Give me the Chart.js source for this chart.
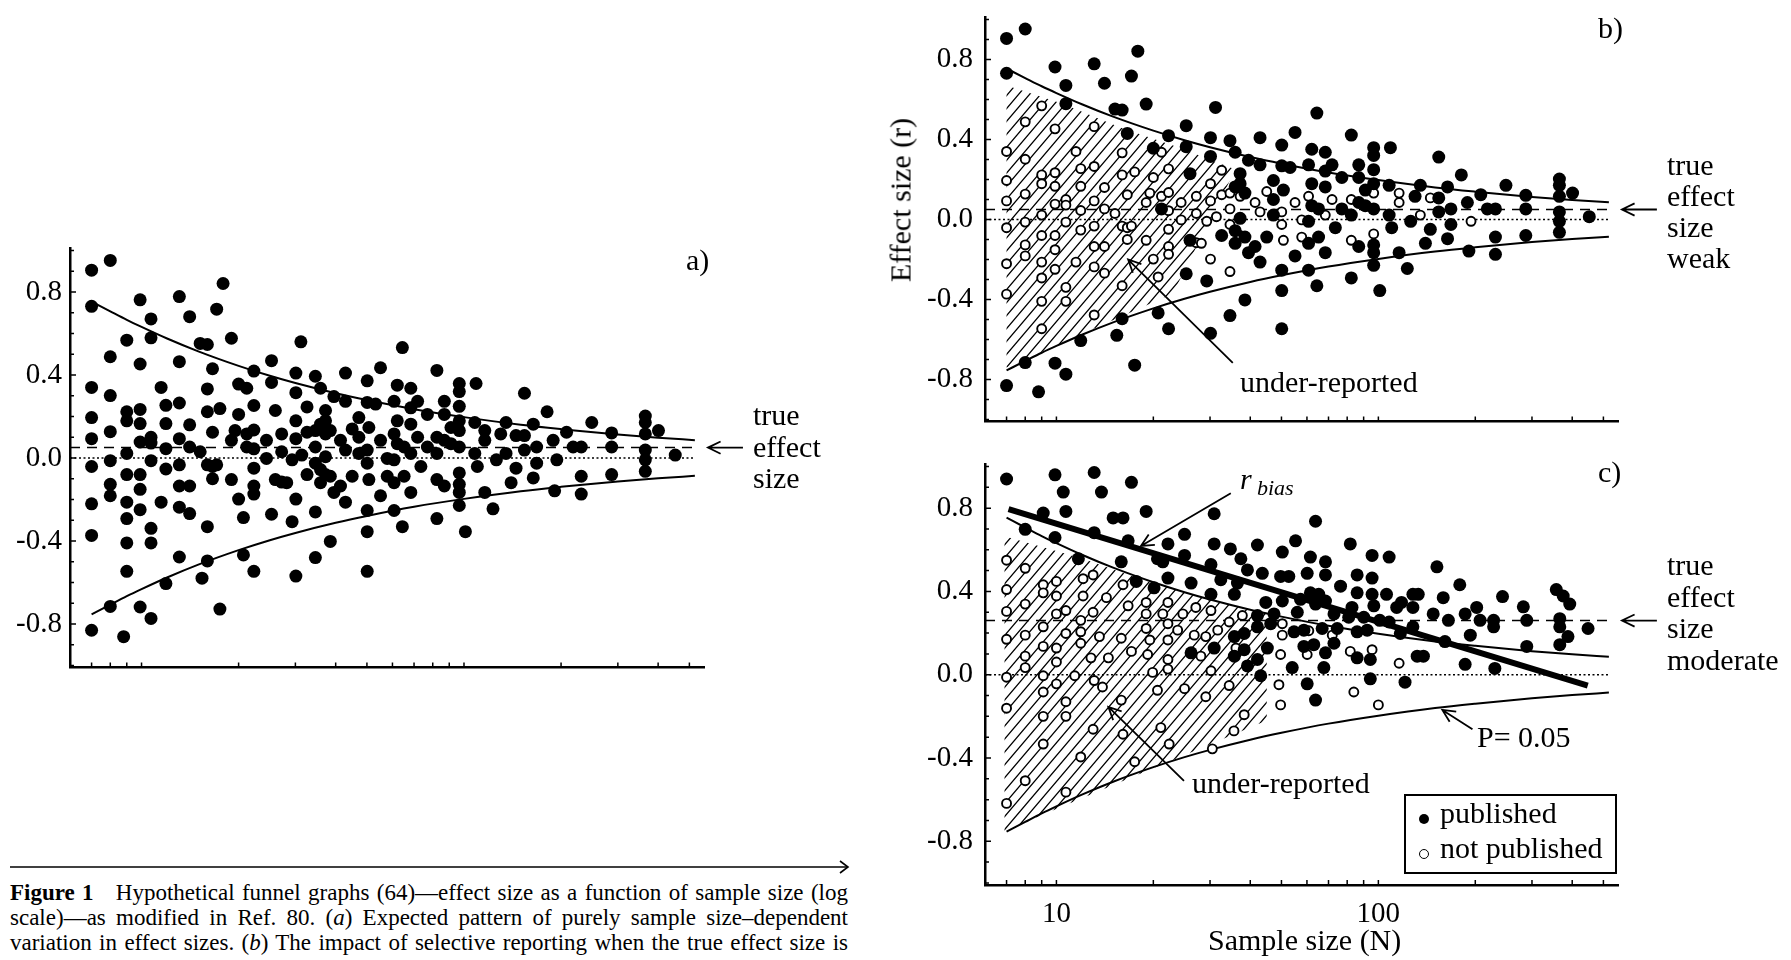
<!DOCTYPE html>
<html>
<head>
<meta charset="utf-8">
<title>Hypothetical funnel graphs</title>
<script src="https://cdn.jsdelivr.net/npm/chart.js@4.4.1/dist/chart.umd.min.js"></script>
<style>
  body { margin: 0; width: 1791px; height: 960px; position: relative; overflow: hidden; background: #fff; font-family: "Liberation Serif", "Times New Roman", serif; color: #000; }
  canvas { position: absolute; }
  .lbl { position: absolute; font-size: 30px; line-height: 31px; white-space: nowrap; z-index: 2; }
  .cap { position: absolute; left: 10px; width: 838px; font-size: 23px; line-height: 25px; text-align: justify; text-align-last: justify; }
  #legend { position: absolute; left: 1404px; top: 794px; width: 209px; height: 76px; border: 2px solid #000; z-index: 2; }
  .dot { position: absolute; width: 10px; height: 10px; border-radius: 50%; box-sizing: border-box; }
</style>
</head>
<body>
<canvas id="panelA" width="880" height="470" style="left:0;top:223px"></canvas>
<canvas id="panelB" width="891" height="463" style="left:900px;top:-12px"></canvas>
<canvas id="panelC" width="891" height="525" style="left:900px;top:435px"></canvas>

<div class="lbl" style="left:686px;top:244px">a)</div>
<div class="lbl" style="left:1598px;top:12px">b)</div>
<div class="lbl" style="left:1598px;top:456px">c)</div>

<div class="lbl" style="left:753px;top:399px;line-height:31.5px">true<br>effect<br>size</div>
<div class="lbl" style="left:1667px;top:149px">true<br>effect<br>size<br>weak</div>
<div class="lbl" style="left:1667px;top:549px;line-height:31.5px">true<br>effect<br>size<br>moderate</div>

<div class="lbl" style="left:1240px;top:366px">under-reported</div>
<div class="lbl" style="left:1192px;top:767px">under-reported</div>
<div class="lbl" style="left:1477px;top:721px">P= 0.05</div>
<div class="lbl" style="left:1240px;top:463px;font-style:italic">r</div>
<div class="lbl" style="left:1257px;top:476px;font-style:italic;font-size:22px;line-height:24px">bias</div>

<div class="lbl" style="left:900px;top:200px;transform:translate(-50%,-50%) rotate(-90deg)">Effect size (r)</div>
<div class="lbl" style="left:1208px;top:924px">Sample size (N)</div>

<div id="legend">
  <span class="dot" style="left:13px;top:18px;background:#000"></span>
  <span class="lbl" style="left:34px;top:1px">published</span>
  <span class="dot" style="left:13px;top:53px;border:1.7px solid #000;background:#fff"></span>
  <span class="lbl" style="left:34px;top:36px">not published</span>
</div>

<svg style="position:absolute;left:0;top:858px" width="860" height="18">
  <line x1="10" y1="9" x2="848" y2="9" stroke="#000" stroke-width="1.6"/>
  <polyline points="840,3 848,9 840,15" fill="none" stroke="#000" stroke-width="1.6"/>
</svg>
<div class="cap" style="top:880px"><b>Figure 1</b>&nbsp;&nbsp; Hypothetical funnel graphs (64)—effect size as a function of sample size (log</div>
<div class="cap" style="top:905px">scale)—as modified in Ref. 80. (<i>a</i>) Expected pattern of purely sample size–dependent</div>
<div class="cap" style="top:930px">variation in effect sizes. (<i>b</i>) The impact of selective reporting when the true effect size is</div>

<script>
'use strict';
// Axis ranges and ticks: sample size N on a log scale, effect size r linear.
const xMin = 6, xMax = 555;
const yMin = -1.01, yMax = 1.01;
const xLabelTicks = [10, 100];
const xMarks = [7, 8, 9, 10, 20, 30, 40, 50, 60, 70, 80, 90, 100, 200, 300, 400, 500];
const yLabelTicks = [-0.8, -0.4, 0, 0.4, 0.8];
const yMarks = [-1.0, -0.9, -0.8, -0.7, -0.6, -0.5, -0.4, -0.3, -0.2, -0.1, 0, 0.1, 0.2, 0.3, 0.4, 0.5, 0.6, 0.7, 0.8, 0.9, 1.0];

// P = 0.05 funnel curves
const critN = [7, 8, 9, 10, 12, 15, 20, 25, 30, 40, 50, 70, 100, 150, 200, 300, 400, 520];
const critUpper = [0.754, 0.707, 0.666, 0.632, 0.576, 0.514, 0.444, 0.396, 0.361, 0.312, 0.279, 0.235, 0.197, 0.160, 0.139, 0.113, 0.098, 0.086];
const critLower = [-0.754, -0.707, -0.666, -0.632, -0.576, -0.514, -0.444, -0.396, -0.361, -0.312, -0.279, -0.235, -0.197, -0.160, -0.139, -0.113, -0.098, -0.086];

// reference lines: true effect (dashed) and zero (dotted)
const refLineN = [6, 520];
const trueWeak = [0.05, 0.05];
const trueModerate = [0.26, 0.26];
const zeroLine = [0, 0];

// r_bias regression line in panel c
const rbiasN = [7.1, 447];
const rbiasR = [0.795, -0.052];

// Panels a & b share the same studies: [N, r]; "published" are filled in b, "unpublished" open in b
const abPublished = [
  [7,0.905],[7,0.731],[7,-0.83],[8,0.952],[8,-0.715],[8.8,-0.861],[9.9,0.762],[9.9,-0.718],
  [10.7,0.67],[10.7,0.579],[10.7,-0.773],[11.9,-0.605],[13.1,0.778],[14.1,0.681],[15.2,0.552],[15.4,-0.579],
  [16,0.547],[16,-0.496],[16.6,0.43],[17.1,0.717],[17.5,-0.728],[17.9,0.841],[19,0.577],[20,0.356],
  [20.7,-0.467],[21.2,0.053],[22.3,0.419],[22.3,-0.546],[25.3,0.469],[25.3,0.364],[25.3,-0.271],[26,0.229],
  [26,-0.104],[29.3,-0.307],[30.1,0.409],[30.1,0.315],[30.1,-0.569],[31.2,0.56],[32.6,-0.08],[34.6,0.394],
  [34.6,-0.48],[35.9,0.336],[35.9,0.163],[35.9,-0.056],[35.9,-0.119],[37.2,0.229],[37.2,0.179],[37.2,0.006],
  [38.5,0.132],[38.5,-0.088],[38.5,-0.402],[39.5,0.296],[39.5,-0.166],[41.4,-0.135],[42.9,0.409],[42.9,0.273],
  [42.9,-0.213],[45,-0.088],[47.2,0.195],[47.2,0.1],[47.2,0.022],[50.1,0.372],[50.1,0.268],[50.1,-0.253],
  [50.1,-0.355],[50.1,-0.546],[50.7,0.147],[53.2,0.26],[55.1,0.435],[55.1,-0.182],[60.7,0.273],[60.7,-0.009],
  [60.7,-0.119],[60.7,-0.253],[62.1,0.351],[62.1,0.179],[62.1,0.069],[64.4,0.532],[64.4,-0.331],[65.2,0.053],
  [65.2,-0.088],[68.4,0.336],[68.4,0.242],[68.4,0.163],[68.4,-0.166],[71.8,0.273],[73.5,-0.041],[77,0.21],
  [77,0.053],[82.4,0.422],[82.4,0.022],[82.4,-0.292],[86.9,0.273],[86.9,0.21],[86.9,0.085],[86.9,-0.135],
  [91.1,0.147],[91.1,0.069],[96.7,0.359],[96.7,0.32],[96.7,0.249],[96.7,0.179],[96.7,0.053],[96.7,-0.127],
  [96.7,-0.166],[96.7,-0.229],[101,-0.355],[108,0.171],[108,0.022],[109,0.359],[110,-0.041],[116,-0.166],
  [123,-0.245],[126,-0.009],[130,0.116],[135,0.171],[140,-0.119],[145,-0.049],[154,0.312],[154,0.108],
  [154,0.038],[164,0.163],[164,-0.096],[168,0.053],[168,-0.025],[181,0.223],[189,0.085],[191,-0.158],
  [208,0.124],[218,0.053],[231,0.053],[231,-0.088],[231,-0.174],[249,0.171],[287,0.121],[287,0.053],
  [287,-0.08],[365,0.202],[365,0.171],[365,0.116],[365,0.038],[365,-0.009],[365,-0.064],[401,0.132],[452,0.014]
];
const abUnpublished = [
  [7,0.34],[7,0.195],[7,0.093],[7,-0.041],[7,-0.221],[7,-0.373],
  [8,0.488],[8,0.301],[8,0.127],[8,-0.013],[8,-0.127],[8,-0.182],
  [9,0.568],[9,0.223],[9,0.179],[9,0.022],[9,-0.08],[9,-0.213],[9,-0.292],[9,-0.409],[9,-0.546],
  [9.9,0.453],[9.9,0.234],[9.9,0.166],[9.9,0.077],[9.9,-0.08],[9.9,-0.151],[9.9,-0.249],
  [10.7,0.1],[10.7,0.072],[10.7,-0.013],[10.7,-0.339],[10.7,-0.409],[11.5,0.34],[11.5,-0.213],
  [11.9,0.254],[11.9,0.166],[11.9,0.045],[11.9,-0.053],
  [13.1,0.464],[13.1,0.265],[13.1,0.093],[13.1,-0.033],[13.1,-0.135],[13.1,-0.237],[13.1,-0.477],
  [14.1,0.16],[14.1,0.053],[14.1,-0.135],[14.1,-0.268],[15.2,0.03],
  [16,0.333],[16,0.223],[16,-0.033],[16,-0.331],[16.6,0.124],[16.6,-0.041],[16.6,-0.1],
  [17.1,-0.033],[17.5,0.238],[19,0.085],[19,-0.104],[19.5,0.132],[20,0.21],[20,-0.198],[20.7,-0.287],
  [21.2,0.336],[21.2,0.116],[22.3,0.253],[22.3,0.135],[22.3,0.044],[22.3,-0.049],[22.3,-0.135],[22.3,-0.174],
  [24.4,0.085],[24.4,-0.002],[27.2,0.116],[27.2,0.03],[27.2,-0.116],[28.2,-0.119],[29.3,-0.009],
  [30.1,0.179],[30.1,0.093],[30.1,-0.198],[31.4,0.014],[32.6,0.246],[32.6,0.124],
  [34.6,0.132],[34.6,0.053],[34.6,-0.025],[34.6,-0.26],[37.2,0.116],[37.2,-0.08],
  [41.4,0.085],[42.9,0.038],[45,0.14],[50.1,0.038],[50.1,-0.025],[50.7,-0.104],[55.1,0.085],
  [57.8,-0.002],[57.8,-0.088],[60.7,0.116],[68.4,0.022],[71.8,0.1],[82.4,0.1],[82.4,-0.104],
  [96.7,0.132],[96.7,-0.072],[116,0.132],[116,0.085],[135,0.022],[145,0.108],[194,-0.009]
];

// Panel c studies
const cPublished = [
  [7,0.94],[9.9,0.96],[10.5,0.877],[13.1,0.971],[13.8,0.877],[17.1,0.924],[15,0.753],[16.1,0.753],
  [10.7,0.784],[9.1,0.776],[19,0.784],[8,0.698],[9.9,0.659],[13.1,0.682],[16.7,0.643],[25,0.674],
  [22.2,0.628],[11.7,0.557],[15.9,0.542],[20.6,0.557],[21.4,0.542],[25,0.573],[17.7,0.448],[22.2,0.464],
  [26.2,0.44],[20.1,0.417],[26.2,0.105],
  [30.9,0.773],[63.8,0.737],[30.9,0.628],[34.7,0.604],[42.1,0.623],[55.3,0.643],[81.8,0.628],[37.4,0.557],
  [50.3,0.589],[61.5,0.565],[68.5,0.542],[95.6,0.573],[108,0.565],[30.2,0.529],[39.2,0.503],[43.6,0.487],
  [49.7,0.472],[52.7,0.472],[60.1,0.487],[68.5,0.479],[85.9,0.479],[95.6,0.464],[32.4,0.456],[36.5,0.44],
  [76.3,0.425],[30.2,0.386],[35.7,0.386],[61.5,0.393],[65.3,0.386],[85.9,0.393],[95.6,0.386],[106,0.386],
  [118,0.347],[128,0.386],[44.7,0.347],[50.3,0.354],[57.3,0.362],[63.8,0.339],[68.5,0.354],[82.8,0.323],
  [96.8,0.331],[114,0.323],[128,0.323],[42.1,0.284],[47.4,0.292],[56,0.3],[72.8,0.292],[80.9,0.276],
  [90.1,0.276],[101,0.261],[108,0.253],[46.3,0.245],[54.7,0.206],[58.7,0.214],[66.9,0.222],[74.5,0.222],
  [85.9,0.206],[92.3,0.214],[117,0.198],[128,0.23],[38.3,0.198],[42.1,0.23],[35.7,0.183],[35.7,0.089],
  [30.9,0.128],[38.3,0.12],[45.2,0.128],[58.7,0.136],[63,0.144],[68.5,0.105],[72.8,0.151],[85.9,0.081],
  [94.4,0.073],[132,0.089],[39.2,0.042],[42.1,0.073],[43.1,-0.005],[54,0.034],[67.7,0.034],[60.1,-0.044],
  [63.8,-0.122],[94.4,-0.02],[121,-0.036],
  [152,0.518],[179,0.432],[133,0.386],[159,0.37],[243,0.375],[282,0.326],[357,0.409],[375,0.378],
  [393,0.339],[202,0.323],[186,0.292],[207,0.261],[165,0.261],[228,0.261],[228,0.23],[289,0.261],
  [366,0.269],[366,0.23],[388,0.183],[366,0.144],[448,0.222],[193,0.19],[161,0.159],[289,0.136],
  [138,0.089],[186,0.05],[230,0.03],[148,0.292]
];
const cUnpublished = [
  [7,0.55],[7,0.409],[7,0.304],[7,0.17],[7,-0.012],[7,-0.161],[7,-0.618],
  [8,0.511],[8,0.339],[8,0.19],[8,0.089],[8,0.034],[8,-0.509],
  [9.1,0.432],[9.1,0.393],[9.1,0.23],[9.1,0.136],[9.1,-0.005],[9.1,-0.083],[9.1,-0.2],[9.1,-0.333],
  [10,0.448],[10,0.378],[10,0.292],[10,0.128],[10,0.061],[10,-0.044],
  [10.7,0.308],[10.7,0.198],[10.7,-0.13],[10.7,-0.2],[10.7,-0.564],[11.4,-0.005],
  [12.1,0.461],[12.1,0.378],[11.9,0.261],[11.9,0.206],[11.9,0.151],[11.9,-0.395],
  [13,0.479],[13,0.3],[12.8,0.081],[13,-0.262],[13.1,-0.028],[13.6,0.183],[13.9,-0.059],[14.3,0.37],[14.5,0.081],
  [16.1,0.432],[15.9,0.175],[15.9,-0.122],[16.1,-0.286],[16.7,0.331],[17.1,0.112],[17.5,-0.418],
  [19,0.347],[19,0.292],[19,0.222],[19.2,0.097],[19.5,0.167],[19.9,0.011],[20.6,-0.075],[21.1,-0.254],
  [21.4,0.292],[22.2,0.347],[22.2,0.245],[22.2,0.167],[22.2,0.073],[22.2,0.027],[22.4,-0.333],
  [23.8,0.214],[24.7,0.292],[25,-0.067],[27.1,0.323],[26.8,0.19],[28.1,0.089],[30.5,-0.356],[35.6,-0.27],
  [30.2,0.308],[34.4,0.253],[37.8,0.284],[31.7,0.214],[29.1,0.183],[36.1,0.128],[50.3,0.245],[50.3,0.19],
  [60.8,0.211],[71.9,0.19],[49.7,0.097],[60.1,0.097],[81.8,0.112],[95.6,0.12],[116,0.055],[30.2,0.019],
  [34.4,-0.052],[49.1,-0.048],[83.9,-0.083],[100,-0.145],[49.7,-0.145],[29.1,-0.106],[38.3,-0.192]
];

// hatched "under-reported" regions, as [N, r] corners
const hatchB = [[7,0.67],[10.4,0.58],[15.8,0.46],[24,0.36],[36,0.25],[23,-0.37],[7,-0.74]];
const hatchC = [[6.9,0.665],[11.9,0.56],[19,0.45],[30,0.36],[45,0.29],[45,-0.22],[6.9,-0.75]];

// annotation arrows: [tail, tip] in [N, r]
const arrowTrueWeak = [[733, 0.05], [571, 0.05]];
const arrowTrueModerate = [[733, 0.26], [571, 0.26]];
const arrowUnderB = [[35.3, -0.716], [16.7, -0.2]];
const arrowUnderC = [[24.9, -0.51], [14.5, -0.155]];
const arrowBias = [[34.8, 0.871], [18.3, 0.618]];
const arrowP05 = [[196, -0.262], [158, -0.169]];

const tickFont = { family: 'Liberation Serif', size: 29 };

function pts(list) { return list.map(([x, y]) => ({ x, y })); }
function line(xs, ys) { return xs.map((x, i) => ({ x, y: ys[i] })); }

function drawArrow(ctx, x1, y1, x2, y2) {
  const a = Math.atan2(y2 - y1, x2 - x1), h = 14, s = 0.45;
  ctx.beginPath();
  ctx.moveTo(x1, y1);
  ctx.lineTo(x2, y2);
  ctx.moveTo(x2 - h * Math.cos(a - s), y2 - h * Math.sin(a - s));
  ctx.lineTo(x2, y2);
  ctx.lineTo(x2 - h * Math.cos(a + s), y2 - h * Math.sin(a + s));
  ctx.stroke();
}

// hatching, inward tick marks and arrows, all placed through the chart scales
const decor = {
  id: 'decor',
  beforeDatasetsDraw(chart, args, o) {
    if (!o.hatch) return;
    const { ctx, chartArea: ca, scales: { x, y } } = chart;
    ctx.save();
    ctx.beginPath();
    o.hatch.forEach(([n, r], i) => {
      const px = x.getPixelForValue(n), py = y.getPixelForValue(r);
      i ? ctx.lineTo(px, py) : ctx.moveTo(px, py);
    });
    ctx.closePath();
    ctx.clip();
    ctx.strokeStyle = '#000';
    ctx.lineWidth = 1.3;
    ctx.beginPath();
    const k = 0.85;
    for (let s = ca.left - ca.height * k; s < ca.right; s += 11) {
      ctx.moveTo(s, ca.bottom);
      ctx.lineTo(s + ca.height * k, ca.top);
    }
    ctx.stroke();
    ctx.restore();
  },
  afterDraw(chart, args, o) {
    const { ctx, chartArea: ca, scales: { x, y } } = chart;
    ctx.save();
    ctx.strokeStyle = '#000';
    ctx.lineWidth = 1.5;
    ctx.beginPath();
    xMarks.forEach(v => {
      const px = x.getPixelForValue(v);
      ctx.moveTo(px, ca.bottom);
      ctx.lineTo(px, ca.bottom - 5);
    });
    yMarks.forEach(v => {
      const py = y.getPixelForValue(v);
      ctx.moveTo(ca.left, py);
      ctx.lineTo(ca.left + (yLabelTicks.includes(v) ? 6 : 4), py);
    });
    ctx.stroke();
    ctx.lineWidth = 1.8;
    (o.arrows || []).forEach(([p, q]) => {
      drawArrow(ctx, x.getPixelForValue(p[0]), y.getPixelForValue(p[1]), x.getPixelForValue(q[0]), y.getPixelForValue(q[1]));
    });
    ctx.restore();
  }
};

function makePanel(id, cfg) {
  const datasets = [];
  if (cfg.rbias) {
    datasets.push({ data: line(rbiasN, rbiasR), showLine: true, borderColor: '#000', borderWidth: 6, pointRadius: 0, order: 0 });
  }
  datasets.push({ data: pts(cfg.filled), pointRadius: 6.5, pointBackgroundColor: '#000', pointBorderWidth: 0, order: 1 });
  if (cfg.hollow) {
    datasets.push({ data: pts(cfg.hollow), pointRadius: 4.5, pointBackgroundColor: '#fff', pointBorderColor: '#000', pointBorderWidth: 1.9, order: 2 });
  }
  const plain = { showLine: true, borderColor: '#000', pointRadius: 0, order: 3 };
  datasets.push({ ...plain, data: line(critN, critUpper), borderWidth: 2, cubicInterpolationMode: 'monotone' });
  datasets.push({ ...plain, data: line(critN, critLower), borderWidth: 2, cubicInterpolationMode: 'monotone' });
  datasets.push({ ...plain, data: line(refLineN, cfg.trueR), borderWidth: 1.5, borderDash: [10, 7] });
  datasets.push({ ...plain, data: line(refLineN, zeroLine), borderWidth: 1.5, borderDash: [2, 2.5] });

  new Chart(document.getElementById(id), {
    type: 'scatter',
    data: { datasets },
    options: {
      responsive: false,
      animation: false,
      events: [],
      layout: { padding: { top: 20, right: cfg.padRight, left: 0, bottom: 0 } },
      plugins: {
        legend: { display: false },
        tooltip: { enabled: false },
        decor: { hatch: cfg.hatch, arrows: cfg.arrows }
      },
      scales: {
        x: {
          type: 'logarithmic', min: xMin, max: xMax,
          afterBuildTicks: s => { s.ticks = xLabelTicks.map(v => ({ value: v })); },
          afterFit: s => { s.height = cfg.xHeight; },
          ticks: { display: cfg.xLabels, font: tickFont, color: '#000', padding: 12, maxRotation: 0, autoSkip: false, callback: v => String(v) },
          grid: { display: false, drawTicks: false },
          border: { color: '#000', width: 2.5 }
        },
        y: {
          min: yMin, max: yMax,
          afterBuildTicks: s => { s.ticks = yLabelTicks.map(v => ({ value: v })); },
          afterFit: s => { s.width = cfg.yWidth; },
          ticks: { font: tickFont, color: '#000', padding: cfg.yPad, callback: v => v.toFixed(1) },
          grid: { display: false, drawTicks: false },
          border: { color: '#000', width: 2.5 }
        }
      }
    },
    plugins: [decor]
  });
}

makePanel('panelA', { filled: abPublished.concat(abUnpublished), trueR: trueWeak, padRight: 176, yWidth: 70, yPad: 8, xHeight: 20, xLabels: false, arrows: [arrowTrueWeak] });
makePanel('panelB', { filled: abPublished, hollow: abUnpublished, trueR: trueWeak, padRight: 173, yWidth: 85, yPad: 12, xHeight: 12, xLabels: false, hatch: hatchB, arrows: [arrowTrueWeak, arrowUnderB] });
makePanel('panelC', { filled: cPublished, hollow: cUnpublished, trueR: trueModerate, rbias: true, padRight: 173, yWidth: 85, yPad: 12, xHeight: 75, xLabels: true, hatch: hatchC, arrows: [arrowTrueModerate, arrowUnderC, arrowBias, arrowP05] });
</script>
</body>
</html>
